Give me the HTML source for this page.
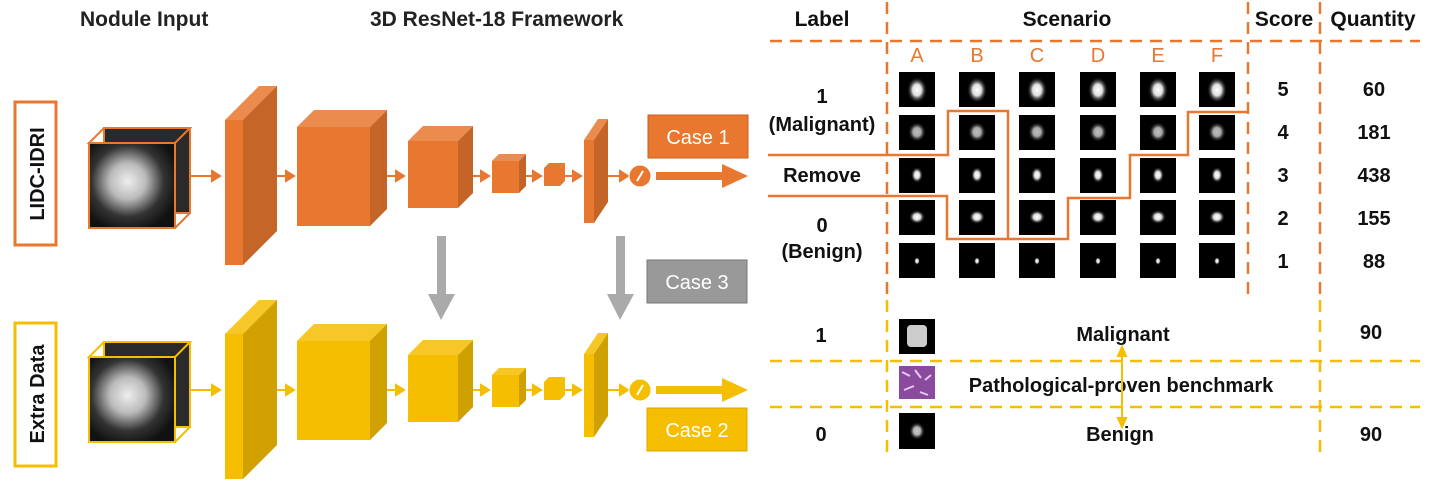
<!DOCTYPE html>
<html><head><meta charset="utf-8"><style>
body{margin:0;background:#fff}
svg{display:block}
text{font-family:"Liberation Sans",sans-serif;}
</style></head><body>
<svg width="1431" height="485" viewBox="0 0 1431 485" xmlns="http://www.w3.org/2000/svg">
<defs>
<radialGradient id="blob" cx="50%" cy="50%" r="50%"><stop offset="0" stop-color="#fff"/><stop offset="0.45" stop-color="#ddd"/><stop offset="1" stop-color="#111" stop-opacity="0"/></radialGradient>
<radialGradient id="ct" cx="45%" cy="45%" r="60%"><stop offset="0" stop-color="#eee"/><stop offset="0.35" stop-color="#bbb"/><stop offset="0.7" stop-color="#333"/><stop offset="1" stop-color="#111"/></radialGradient>
<g id="net">
 <rect x="104" y="128" width="86" height="85" fill="#2a2a2a" stroke="currentColor" stroke-width="2"/>
 <polygon points="89,143 104,128 190,128 175,143" fill="none" stroke="currentColor" stroke-width="2"/>
 <rect x="89" y="143" width="86" height="85" fill="url(#ct)" stroke="currentColor" stroke-width="2"/>
 <line x1="175" y1="228" x2="190" y2="213" stroke="currentColor" stroke-width="2"/>
 <g stroke="currentColor" stroke-width="2" fill="currentColor">
  <line x1="190" y1="176" x2="212" y2="176"/><polygon points="212,171 220,176 212,181"/>
  <line x1="277" y1="176" x2="287" y2="176"/><polygon points="286,171 294,176 286,181"/>
  <line x1="387" y1="176" x2="396" y2="176"/><polygon points="396,171 404,176 396,181"/>
  <line x1="473" y1="176" x2="481" y2="176"/><polygon points="481,171 489,176 481,181"/>
  <line x1="526" y1="176" x2="533" y2="176"/><polygon points="533,171 541,176 533,181"/>
  <line x1="565" y1="176" x2="573" y2="176"/><polygon points="573,171 581,176 573,181"/>
  <line x1="608" y1="176" x2="620" y2="176"/><polygon points="620,171 628,176 620,181"/>
 </g>
 <rect x="225" y="120" width="18" height="145" fill="currentColor"/>
 <polygon points="225,120 259,86 277,86 243,120" fill="currentColor"/>
 <polygon points="225,120 259,86 277,86 243,120" fill="#fff" opacity="0.15"/>
 <polygon points="243,120 277,86 277,231 243,265" fill="currentColor"/>
 <polygon points="243,120 277,86 277,231 243,265" fill="#000" opacity="0.15"/>
 <g fill="currentColor">
  <rect x="297" y="127" width="73" height="99"/>
  <polygon points="297,127 314,110 387,110 370,127"/>
  <polygon points="370,127 387,110 387,209 370,226"/>
  <rect x="408" y="141" width="50" height="67"/>
  <polygon points="408,141 423,126 473,126 458,141"/>
  <polygon points="458,141 473,126 473,193 458,208"/>
  <rect x="492" y="161" width="27" height="32"/>
  <polygon points="492,161 499,154 526,154 519,161"/>
  <polygon points="519,161 526,154 526,186 519,193"/>
  <rect x="544" y="168" width="16" height="18"/>
  <polygon points="544,168 549,163 565,163 560,168"/>
  <polygon points="560,168 565,163 565,181 560,186"/>
  <rect x="584" y="140" width="10" height="83"/>
  <polygon points="584,140 598,119 608,119 594,140"/>
  <polygon points="594,140 608,119 608,202 594,223"/>
 </g>
 <g fill="#fff" opacity="0.15">
  <polygon points="297,127 314,110 387,110 370,127"/>
  <polygon points="408,141 423,126 473,126 458,141"/>
  <polygon points="492,161 499,154 526,154 519,161"/>
  <polygon points="584,140 598,119 608,119 594,140"/>
 </g>
 <g fill="#000" opacity="0.15">
  <polygon points="370,127 387,110 387,209 370,226"/>
  <polygon points="458,141 473,126 473,193 458,208"/>
  <polygon points="519,161 526,154 526,186 519,193"/>
  <polygon points="594,140 608,119 608,202 594,223"/>
 </g>
 <circle cx="640" cy="176" r="11" fill="currentColor" stroke="#fff" stroke-width="1"/>
 <path d="M637 181 L643 171" stroke="#fff" stroke-width="2"/>
 <rect x="656" y="172" width="68" height="8" fill="currentColor"/>
 <polygon points="722,164 748,176 722,188" fill="currentColor"/>
</g>
</defs>

<text x="80" y="26" font-size="21" font-weight="bold" fill="#222">Nodule Input</text>
<text x="370" y="26" font-size="21" font-weight="bold" fill="#222">3D ResNet-18 Framework</text>

<use href="#net" color="#E8772F"/>
<use href="#net" color="#F5BE00" transform="translate(0,214)"/>

<rect x="15" y="102" width="41" height="143" fill="#fff" stroke="#E8772F" stroke-width="3"/>
<text transform="translate(44,174) rotate(-90)" font-size="20" font-weight="bold" text-anchor="middle" fill="#111">LIDC-IDRI</text>
<rect x="15" y="323" width="41" height="143" fill="#fff" stroke="#F5BE00" stroke-width="3"/>
<text transform="translate(44,394) rotate(-90)" font-size="20" font-weight="bold" text-anchor="middle" fill="#111">Extra Data</text>

<rect x="437" y="236" width="9" height="60" fill="#aaa"/>
<polygon points="428,294 455,294 441,320" fill="#aaa"/>
<rect x="616" y="236" width="9" height="60" fill="#aaa"/>
<polygon points="607,294 634,294 620,320" fill="#aaa"/>

<rect x="648" y="115" width="100" height="43" fill="#E8772F" stroke="#c96020"/>
<text x="698" y="144" font-size="20" fill="#fff" text-anchor="middle">Case 1</text>
<rect x="647" y="260" width="100" height="43" fill="#999" stroke="#777"/>
<text x="697" y="289" font-size="20" fill="#fff" text-anchor="middle">Case 3</text>
<rect x="647" y="408" width="100" height="43" fill="#F5BE00" stroke="#d9a800"/>
<text x="697" y="437" font-size="20" fill="#fff" text-anchor="middle">Case 2</text>

<g font-size="21" font-weight="bold" fill="#111" text-anchor="middle">
<text x="822" y="26">Label</text>
<text x="1067" y="26">Scenario</text>
<text x="1284" y="26">Score</text>
<text x="1373" y="26">Quantity</text>
</g>
<g stroke="#E8772F" stroke-width="2.5" stroke-dasharray="12,8" fill="none">
<line x1="770" y1="41" x2="1420" y2="41"/>
<line x1="887" y1="2" x2="887" y2="300"/>
<line x1="1248" y1="2" x2="1248" y2="296"/>
<line x1="1320" y1="2" x2="1320" y2="300"/>
</g>
<g stroke="#F5BE00" stroke-width="2.5" stroke-dasharray="12,8" fill="none">
<line x1="887" y1="300" x2="887" y2="455"/>
<line x1="1320" y1="300" x2="1320" y2="455"/>
<line x1="770" y1="361" x2="1420" y2="361"/>
<line x1="770" y1="407" x2="1420" y2="407"/>
</g>
<g font-size="20" fill="#E8772F" text-anchor="middle">
<text x="917" y="62">A</text><text x="977" y="62">B</text><text x="1037" y="62">C</text><text x="1098" y="62">D</text><text x="1158" y="62">E</text><text x="1217" y="62">F</text>
</g>
<g id="col">
<rect x="899" y="72" width="36" height="35" fill="#000"/><ellipse cx="917" cy="90" rx="10" ry="13" fill="url(#blob)"/>
<rect x="899" y="115" width="36" height="35" fill="#000"/><ellipse cx="917" cy="132" rx="9" ry="10" fill="url(#blob)" opacity="0.75"/>
<rect x="899" y="158" width="36" height="35" fill="#000"/><ellipse cx="917" cy="175" rx="6" ry="8" fill="url(#blob)"/>
<rect x="899" y="200" width="36" height="35" fill="#000"/><ellipse cx="917" cy="217" rx="8" ry="7" fill="url(#blob)"/>
<rect x="899" y="243" width="36" height="35" fill="#000"/><ellipse cx="917" cy="261" rx="3" ry="4" fill="url(#blob)"/>
</g>
<use href="#col" x="60"/><use href="#col" x="120"/><use href="#col" x="181"/><use href="#col" x="241"/><use href="#col" x="300"/>

<g stroke="#E8772F" stroke-width="2.5" fill="none">
<polyline points="768,155 948,155 948,111 1008,111 1008,239"/>
<polyline points="768,196 947,196 947,239 1068,239 1068,198 1130,198 1130,155 1188,155 1188,112 1248,112"/>
</g>

<g font-size="20" font-weight="bold" fill="#111" text-anchor="middle">
<text x="822" y="103">1</text>
<text x="822" y="131">(Malignant)</text>
<text x="822" y="182">Remove</text>
<text x="822" y="232">0</text>
<text x="822" y="258">(Benign)</text>
<text x="1283" y="96">5</text><text x="1283" y="139">4</text><text x="1283" y="182">3</text><text x="1283" y="225">2</text><text x="1283" y="268">1</text>
<text x="1374" y="96">60</text><text x="1374" y="139">181</text><text x="1374" y="182">438</text><text x="1374" y="225">155</text><text x="1374" y="268">88</text>
<text x="821" y="342">1</text>
<text x="821" y="441">0</text>
<text x="1123" y="341">Malignant</text>
<text x="1121" y="392">Pathological-proven benchmark</text>
<text x="1120" y="441">Benign</text>
<text x="1371" y="339">90</text>
<text x="1371" y="441">90</text>
</g>
<rect x="899" y="319" width="36" height="35" fill="#000"/><rect x="907" y="325" width="20" height="22" rx="4" fill="#ccc"/>
<rect x="899" y="366" width="36" height="33" fill="#8a4a9e"/>
<path d="M902 372 l8 4 M915 370 l6 8 M925 380 l6 -5 M904 390 l10 -4 M920 392 l8 3" stroke="#e8c8f0" stroke-width="2"/>
<rect x="899" y="413" width="36" height="36" fill="#000"/><ellipse cx="917" cy="431" rx="8" ry="9" fill="url(#blob)" opacity="0.8"/>
<g stroke="#F5BE00" stroke-width="2" fill="#F5BE00">
<line x1="1122" y1="355" x2="1122" y2="420"/>
<polygon points="1118,356 1126,356 1122,347"/>
<polygon points="1118,418 1126,418 1122,427"/>
</g>
</svg>
</body></html>
